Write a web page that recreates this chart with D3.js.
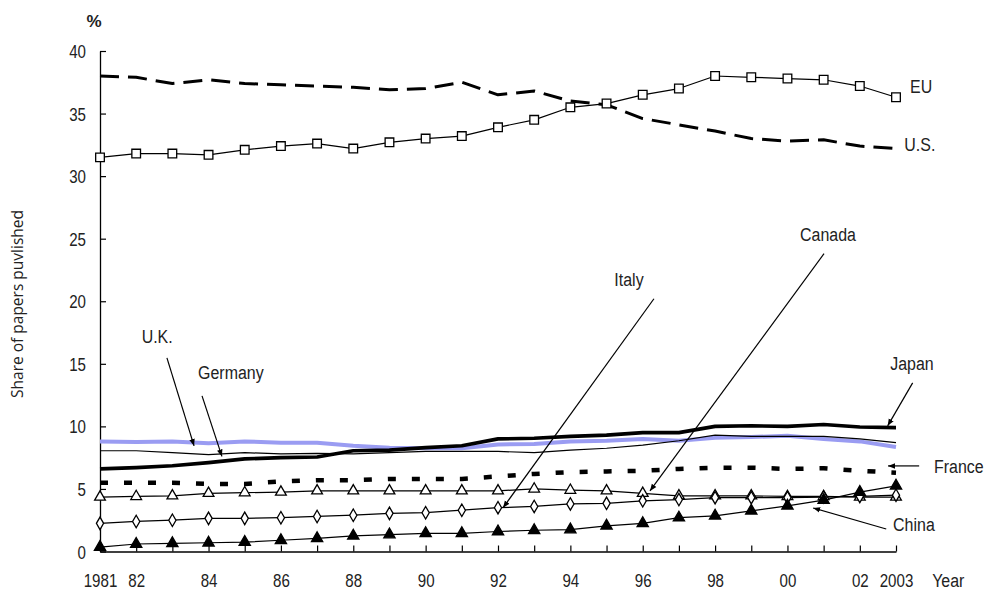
<!DOCTYPE html>
<html><head><meta charset="utf-8">
<script src="https://cdn.jsdelivr.net/npm/d3@7"></script>
<style>
body{margin:0;background:#fff;}
svg text{font-family:"Liberation Sans",Arial,sans-serif;fill:#222;}
</style></head>
<body><svg id="c" width="987" height="593"></svg>
<script>
const years = [1981,1982,1983,1984,1985,1986,1987,1988,1989,1990,1991,1992,1993,1994,1995,1996,1997,1998,1999,2000,2001,2002,2003];
const xTickLabels = {1981:"1981",1982:"82",1984:"84",1986:"86",1988:"88",1990:"90",1992:"92",1994:"94",1996:"96",1998:"98",2000:"00",2002:"02",2003:"2003"};
const yTicks = [0,5,10,15,20,25,30,35,40];

const EU      = [31.5,31.8,31.8,31.7,32.1,32.4,32.6,32.2,32.7,33.0,33.2,33.9,34.5,35.5,35.8,36.5,37.0,38.0,37.9,37.8,37.7,37.2,36.3];
const US      = [38.0,37.9,37.4,37.7,37.4,37.3,37.2,37.1,36.9,37.0,37.5,36.5,36.8,36.0,35.7,34.6,34.1,33.6,33.0,32.8,32.9,32.4,32.2];
const Japan   = [6.6,6.7,6.85,7.1,7.4,7.5,7.55,8.05,8.1,8.3,8.45,9.0,9.05,9.2,9.3,9.5,9.5,10.0,10.05,10.0,10.15,9.95,9.9];
const UK      = [8.8,8.75,8.8,8.65,8.8,8.7,8.7,8.45,8.3,8.25,8.25,8.55,8.6,8.8,8.85,9.0,8.85,9.1,9.15,9.25,9.0,8.8,8.35];
const Germany = [8.05,8.05,7.9,7.75,7.9,7.8,7.85,7.8,7.9,8.0,8.0,8.0,7.9,8.1,8.25,8.5,8.85,9.3,9.2,9.2,9.2,9.0,8.7];
const France  = [5.5,5.5,5.5,5.4,5.4,5.6,5.7,5.7,5.8,5.8,5.8,6.0,6.2,6.35,6.4,6.45,6.6,6.7,6.7,6.6,6.65,6.45,6.3];
const Canada  = [4.35,4.4,4.45,4.65,4.7,4.75,4.85,4.85,4.85,4.85,4.85,4.85,5.0,4.9,4.85,4.65,4.45,4.45,4.45,4.4,4.4,4.35,4.35];
const Italy   = [2.25,2.4,2.5,2.65,2.65,2.7,2.8,2.9,3.05,3.1,3.3,3.5,3.6,3.8,3.85,4.05,4.15,4.3,4.3,4.3,4.35,4.4,4.5];
const China   = [0.35,0.6,0.65,0.7,0.75,0.9,1.05,1.25,1.35,1.45,1.45,1.6,1.7,1.75,2.05,2.25,2.7,2.85,3.25,3.65,4.1,4.75,5.25];

// annotations (in data units: year, value)
const labels = [
  {t:"EU", x:2003.39, y:37.16, a:"start"},
  {t:"U.S.", x:2003.23, y:32.52, a:"start"},
  {t:"U.K.", x:1982.58, y:17.16, a:"middle", ax1:1982.85, ay1:15.48, ax2:1983.60, ay2:8.44},
  {t:"Germany", x:1983.71, y:14.28, a:"start", ax1:1983.82, ay1:12.44, ax2:1984.37, ay2:7.60},
  {t:"Italy", x:1995.62, y:21.72, a:"middle", ax1:1996.31, ay1:20.2, ax2:1992.14, ay2:3.5},
  {t:"Canada", x:2001.12, y:25.32, a:"middle", ax1:2001.01, ay1:23.8, ax2:1996.2, ay2:4.84},
  {t:"Japan", x:2003.44, y:15.0, a:"middle", ax1:2003.46, ay1:13.48, ax2:2002.77, ay2:10.04},
  {t:"France", x:2004.05, y:6.76, a:"start", ax1:2003.64, ay1:6.84, ax2:2002.78, ay2:6.84},
  {t:"China", x:2002.92, y:2.12, a:"start", ax1:2002.73, ay1:1.80, ax2:2000.71, ay2:3.48}
];

const SX = 0.84; // horizontal condensing to mimic a narrow face
const svg = d3.select("#c");
const x = d3.scaleLinear().domain([1981,2003]).range([100,896]);
const y = d3.scaleLinear().domain([0,40]).range([551.5,51]);

svg.append("defs").append("marker").attr("id","ah").attr("viewBox","0 0 10 10")
  .attr("refX",10).attr("refY",5).attr("markerWidth",7).attr("markerHeight",7)
  .attr("markerUnits","userSpaceOnUse").attr("orient","auto")
  .append("path").attr("d","M0,1 L10,5 L0,9 Z").attr("fill","#000");

function narrowText(px, py, txt, size, anchor){
  return svg.append("text").attr("transform",`translate(${px},${py}) scale(${SX},1)`)
    .attr("text-anchor",anchor).attr("font-size",size).text(txt);
}

// axes
const xAxis = d3.axisBottom(x).tickValues(years).tickSizeInner(-6).tickSizeOuter(0)
  .tickFormat(d => xTickLabels[d] || "");
const gx = svg.append("g").attr("transform","translate(0,551.5)").call(xAxis);
gx.selectAll("path.domain").attr("stroke","#000").attr("stroke-width",1.3);
gx.selectAll(".tick line").attr("stroke","#000").attr("stroke-width",1.2);
gx.selectAll(".tick text").attr("y",0).attr("dy",0)
  .attr("transform",`translate(0,35) scale(${SX},1)`).attr("font-size",18).attr("fill","#222");

const yAxis = d3.axisLeft(y).tickValues(yTicks).tickSizeInner(-6).tickSizeOuter(0).tickPadding(0);
const gy = svg.append("g").attr("transform","translate(100,0)").call(yAxis);
gy.selectAll("path.domain").attr("stroke","#000").attr("stroke-width",1.3);
gy.selectAll(".tick line").attr("stroke","#000").attr("stroke-width",1.2);
gy.selectAll(".tick text").attr("x",0).attr("dy",0)
  .attr("transform",`translate(-14,6.5) scale(${SX},1)`).attr("font-size",18).attr("fill","#222");
svg.selectAll(".tick text").style("font-family",'"Liberation Sans",Arial,sans-serif');

svg.append("text").attr("x",94).attr("y",27).attr("text-anchor","middle")
  .attr("font-size",17).attr("font-weight","bold").text("%");
svg.append("text").attr("transform","translate(23,304) rotate(-90)").attr("text-anchor","middle")
  .style("font-family","'Open Sans',sans-serif").attr("font-size",15.5).text("Share of papers puvlished");
narrowText(x(2004.0), 587, "Year", 19, "start");

const line = d3.line().x((d,i)=>x(years[i])).y(d=>y(d));
function drawLine(data, opts){
  svg.append("path").datum(data).attr("d",line).attr("fill","none")
    .attr("stroke",opts.color||"#000").attr("stroke-width",opts.w)
    .attr("stroke-dasharray",opts.dash||null).attr("stroke-linejoin","round");
}
function drawMarkers(data, type, size, fill){
  const sym = d3.symbol().type(type).size(size);
  svg.append("g").selectAll("path").data(data).join("path")
    .attr("transform",(d,i)=>`translate(${x(years[i])},${y(d)})`)
    .attr("d",sym).attr("fill",fill).attr("stroke","#000").attr("stroke-width",1.3);
}

drawLine(UK,{w:4,color:"#9a9cf2"});
drawLine(Germany,{w:1.2});
drawLine(Japan,{w:3.6});
drawLine(France,{w:4.5,dash:"8,16"});
drawLine(Canada,{w:1.2});
drawLine(Italy,{w:1.2});
drawLine(China,{w:1.2});
drawLine(US,{w:3,dash:"19,9"});
drawLine(EU,{w:1.2});

drawMarkers(EU, d3.symbolSquare, 75, "#fff");
drawMarkers(Canada, d3.symbolTriangle, 50, "#fff");
drawMarkers(Italy, d3.symbolDiamond, 45, "#fff");
drawMarkers(China, d3.symbolTriangle, 55, "#000");

labels.forEach(l=>{
  narrowText(x(l.x), y(l.y)+6.5, l.t, 19, l.a);
  if(l.ax1!==undefined){
    svg.append("line").attr("x1",x(l.ax1)).attr("y1",y(l.ay1)).attr("x2",x(l.ax2)).attr("y2",y(l.ay2))
      .attr("stroke","#000").attr("stroke-width",1.2).attr("marker-end","url(#ah)");
  }
});
</script></body></html>
